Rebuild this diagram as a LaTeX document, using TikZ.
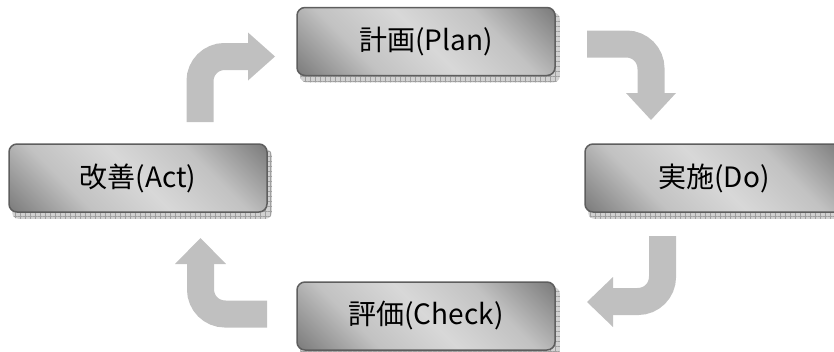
\documentclass[tikz,border=0pt]{standalone}
\usepackage{fontspec}
\newfontfamily\jp{Noto Sans CJK JP}
\usetikzlibrary{patterns.meta,backgrounds}
\definecolor{boxdark}{HTML}{4E4E4E}
\definecolor{boxmid}{HTML}{7C7C7C}
\definecolor{boxsemi}{HTML}{C2C2C2}
\definecolor{boxlight}{HTML}{D8D8D8}
\definecolor{boxborder}{HTML}{5E5E5E}
\definecolor{arrowgray}{HTML}{C0C0C0}
\definecolor{shadowgray}{HTML}{D2D2D2}
\pgfdeclareverticalshading{boxshade}{100bp}{color(0bp)=(boxdark); color(15bp)=(boxmid); color(33bp)=(boxsemi); color(50bp)=(boxlight); color(67bp)=(boxsemi); color(85bp)=(boxmid); color(100bp)=(boxdark)}
\tikzset{
  box/.style={rounded corners=8pt, draw=boxborder, line width=1.5pt,
    shading=boxshade, shading angle=-45,
    minimum width=258pt, minimum height=68pt, inner sep=0pt,
    font=\jp\fontsize{28pt}{32pt}\selectfont, text=black},
  boxshadow/.style={fill=shadowgray, rounded corners=6pt},
  boxhatch/.style={pattern={Hatch[angle=0,distance=5pt,line width=0.5pt]}, pattern color=gray!75, rounded corners=6pt},
  bendshaft/.style={draw=arrowgray, line width=27pt, rounded corners=24.5pt},
  bendhead/.style={fill=arrowgray}
}
\begin{document}
\begin{tikzpicture}[x=1pt,y=-1pt]
\useasboundingbox (0,0) rectangle (834,351);
\clip (0,0) rectangle (834,351);
% boxes
\node[box] (plan)  at (426,41.5) {計画(Plan)};
\node[box] (act)   at (138,178)  {改善(Act)};
\node[box] (do)    at (714,178)  {実施(Do)};
\node[box] (check) at (426,316)  {評価(Check)};
% shadows
\begin{scope}[on background layer]
\foreach \n in {plan,act,do,check}{
  \fill[boxshadow] ([xshift=4pt,yshift=-6pt]\n.south west) rectangle ([xshift=4pt,yshift=-6pt]\n.north east);
  \fill[boxhatch] ([xshift=4pt,yshift=-6pt]\n.south west) rectangle ([xshift=4pt,yshift=-6pt]\n.north east);
}
\end{scope}
% arrow 1: Act -> Plan
\coordinate (a1s) at (200,122);
\coordinate (a1c) at (200,56.5);
\coordinate (a1e) at (249,56.5);
\draw[bendshaft] (a1s) -- (a1c) -- (a1e);
\coordinate (h1a) at (248,32.5);
\coordinate (h1t) at (275,56.5);
\coordinate (h1b) at (248,80.5);
\fill[bendhead] (h1a) -- (h1t) -- (h1b) -- cycle;
% arrow 2: Plan -> Do
\coordinate (a2s) at (587,44);
\coordinate (a2c) at (651,44);
\coordinate (a2e) at (651,94);
\draw[bendshaft] (a2s) -- (a2c) -- (a2e);
\coordinate (h2a) at (626,93);
\coordinate (h2t) at (651,120);
\coordinate (h2b) at (676,93);
\fill[bendhead] (h2a) -- (h2t) -- (h2b) -- cycle;
% arrow 3: Do -> Check
\coordinate (a3s) at (662.5,236);
\coordinate (a3c) at (662.5,301.5);
\coordinate (a3e) at (612,301.5);
\draw[bendshaft] (a3s) -- (a3c) -- (a3e);
\coordinate (h3a) at (613,277);
\coordinate (h3t) at (587,302);
\coordinate (h3b) at (613,327);
\fill[bendhead] (h3a) -- (h3t) -- (h3b) -- cycle;
% arrow 4: Check -> Act
\coordinate (a4s) at (267,314);
\coordinate (a4c) at (200.5,314);
\coordinate (a4e) at (200.5,263);
\draw[bendshaft] (a4s) -- (a4c) -- (a4e);
\coordinate (h4a) at (175,264);
\coordinate (h4t) at (200.5,238);
\coordinate (h4b) at (226,264);
\fill[bendhead] (h4a) -- (h4t) -- (h4b) -- cycle;
\end{tikzpicture}
\end{document}
